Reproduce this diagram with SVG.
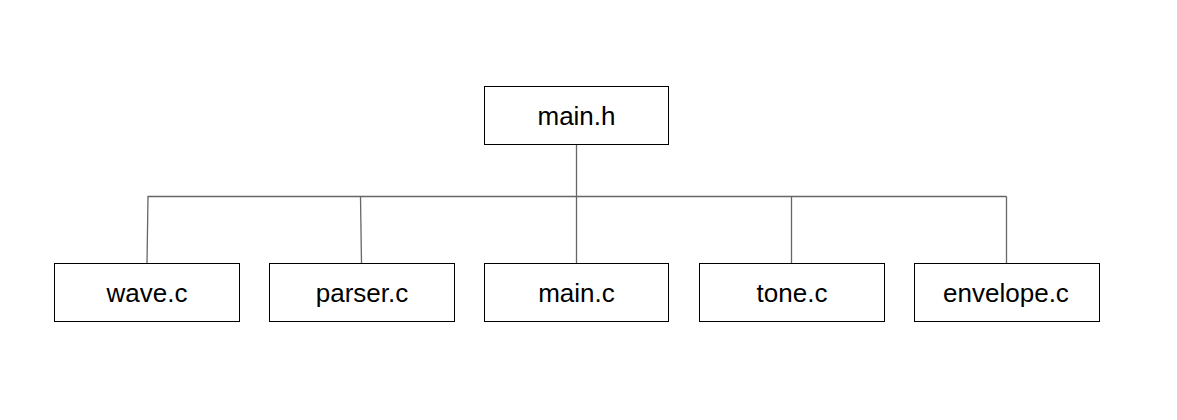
<svg xmlns="http://www.w3.org/2000/svg" width="1177" height="420" viewBox="0 0 1177 420">
<style>
.box{fill:#fff;stroke:#000;stroke-width:1}
.lbl{font-family:"Liberation Sans",Arial,sans-serif;font-size:26px;fill:#000;text-anchor:middle}
.edge{fill:none;stroke:#666;stroke-width:1.3}
</style>
<rect width="1177" height="420" fill="#fff"/>
<g id="connectors">
<path class="edge" d="M576.5,144.5 V196.5"/>
<path class="edge" d="M147.5,196.5 H1006.5"/>
<path class="edge" d="M148,196.5 L147,263.5"/>
<path class="edge" d="M360.5,196.5 L361.5,263.5"/>
<path class="edge" d="M576.5,196.5 V263.5"/>
<path class="edge" d="M791.5,196.5 V263.5"/>
<path class="edge" d="M1006.5,196.5 V263.5"/>
</g>
<g id="main_h"><rect class="box" x="484.5" y="86.5" width="184" height="58"/><text class="lbl" x="576.5" y="125">main.h</text></g>
<g id="wave_c"><rect class="box" x="54.5" y="263.5" width="185" height="58"/><text class="lbl" x="147" y="302">wave.c</text></g>
<g id="parser_c"><rect class="box" x="269.5" y="263.5" width="185" height="58"/><text class="lbl" x="362" y="302">parser.c</text></g>
<g id="main_c"><rect class="box" x="484.5" y="263.5" width="184" height="58"/><text class="lbl" x="576.5" y="302">main.c</text></g>
<g id="tone_c"><rect class="box" x="699.5" y="263.5" width="185" height="58"/><text class="lbl" x="792" y="302">tone.c</text></g>
<g id="envelope_c"><rect class="box" x="914.5" y="263.5" width="185" height="58"/><text class="lbl" x="1006" y="302">envelope.c</text></g>
</svg>
